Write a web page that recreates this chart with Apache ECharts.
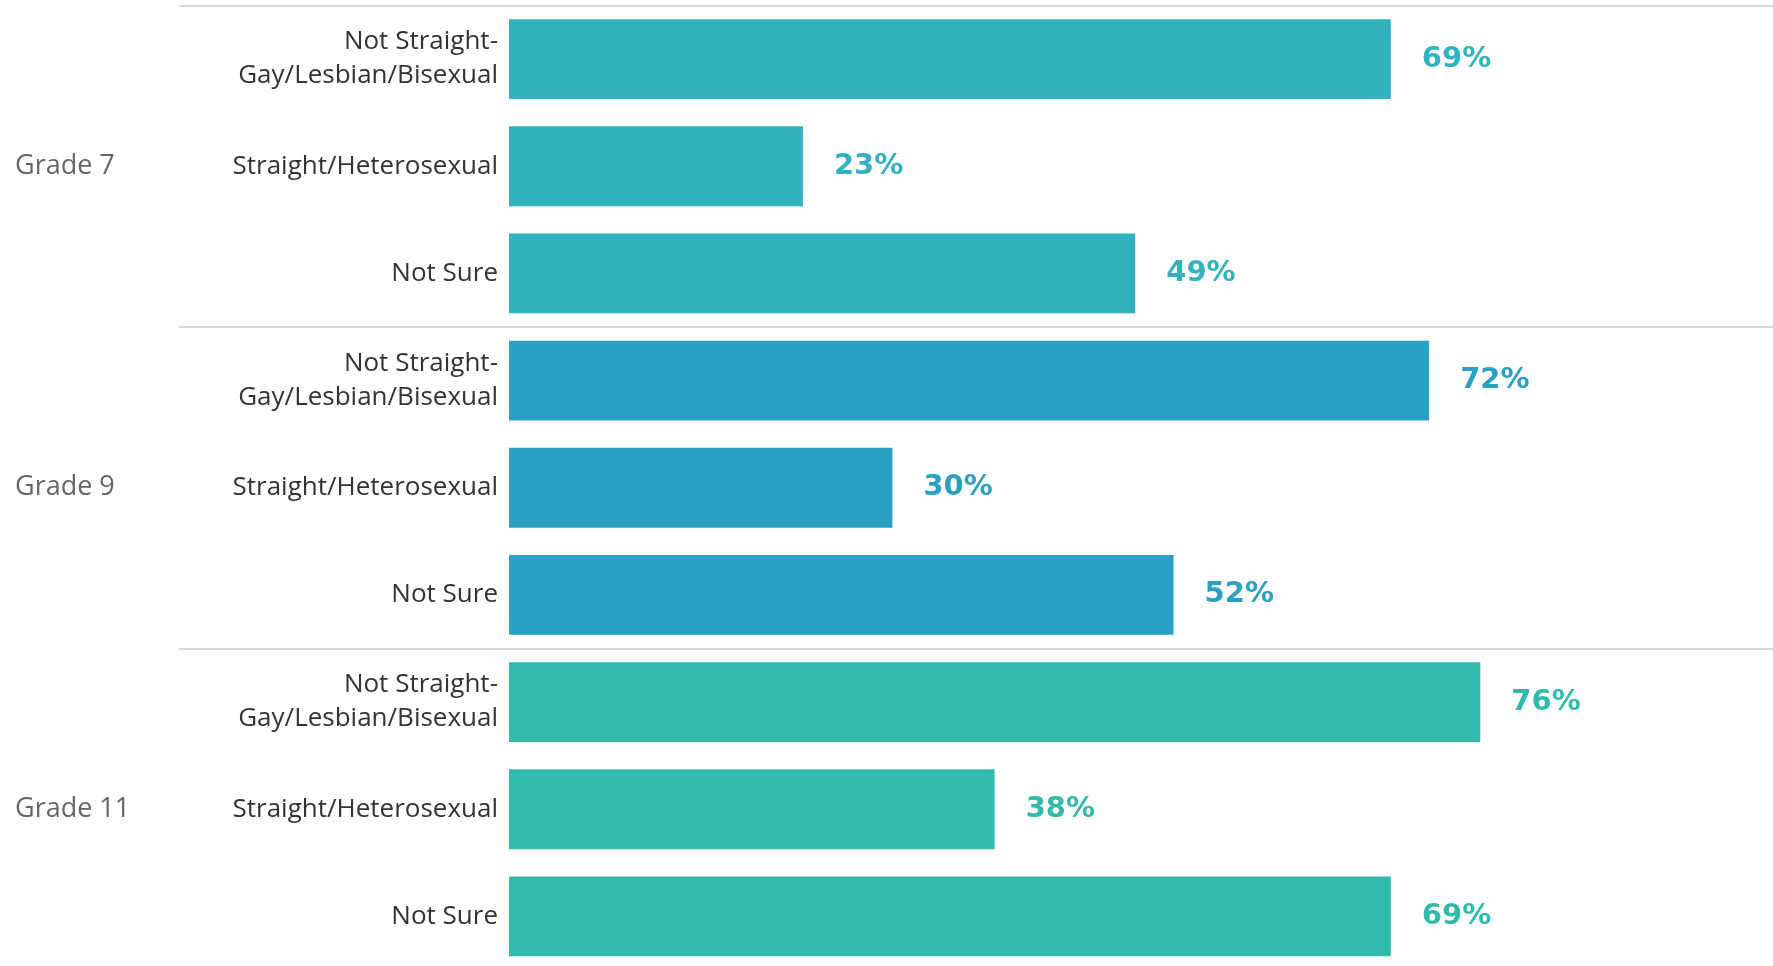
<!DOCTYPE html>
<html>
<head>
<meta charset="utf-8">
<script src="https://cdn.jsdelivr.net/npm/echarts@6/dist/echarts.min.js"></script>
<style>
html,body{margin:0;padding:0;background:#fff;}
#chart{width:1773px;height:966px;}
</style>
</head>
<body>
<div id="chart"></div>
<script>
const grades = ["Grade 7", "Grade 9", "Grade 11"];
const orientations = ["Not Straight-\nGay/Lesbian/Bisexual", "Straight/Heterosexual", "Not Sure"];
const grade7Values = [69, 23, 49];
const grade9Values = [72, 30, 52];
const grade11Values = [76, 38, 69];
const gradeColors = ["#32b2bf", "#2aa0c5", "#32bbac"];

const categories = [];
const barData = [];
[grade7Values, grade9Values, grade11Values].forEach((vals, gi) => {
  vals.forEach((v, i) => {
    categories.push(orientations[i]);
    barData.push({
      value: v,
      itemStyle: { color: gradeColors[gi] },
      label: { color: gradeColors[gi] }
    });
  });
});

const sepStyle = { color: "#d6d6d6", width: 2 };
const chart = echarts.init(document.getElementById("chart"));
chart.setOption({
  animation: false,
  grid: { left: 509, top: 5.5, width: 1278, height: 964.5, outerBoundsMode: "none", containLabel: false },
  xAxis: { type: "value", min: 0, max: 100, show: false },
  yAxis: [
    {
      type: "category", data: categories, inverse: true,
      axisLine: { show: false }, axisTick: { show: false }, splitLine: { show: false },
      axisLabel: {
        fontFamily: "Open Sans", fontSize: 26, color: "#333333",
        lineHeight: 34, align: "right", margin: 11, padding: [5, 0, 0, 0]
      }
    },
    {
      type: "category", data: grades, inverse: true, position: "left",
      axisLine: { show: false },
      axisTick: { show: true, length: 330, lineStyle: sepStyle },
      splitLine: { show: true, lineStyle: sepStyle },
      axisLabel: {
        fontFamily: "Open Sans", fontSize: 27, color: "#666666",
        align: "left", margin: 494, padding: [5, 0, 0, 0]
      }
    }
  ],
  series: [{
    type: "bar", yAxisIndex: 0, data: barData, barCategoryGap: "25.5%",
    label: {
      show: true, position: "right", distance: 31, padding: [4, 0, 0, 0],
      formatter: "{c}%", fontFamily: "DejaVu Sans", fontWeight: "bold", fontSize: 29
    }
  }]
});
</script>
</body>
</html>
